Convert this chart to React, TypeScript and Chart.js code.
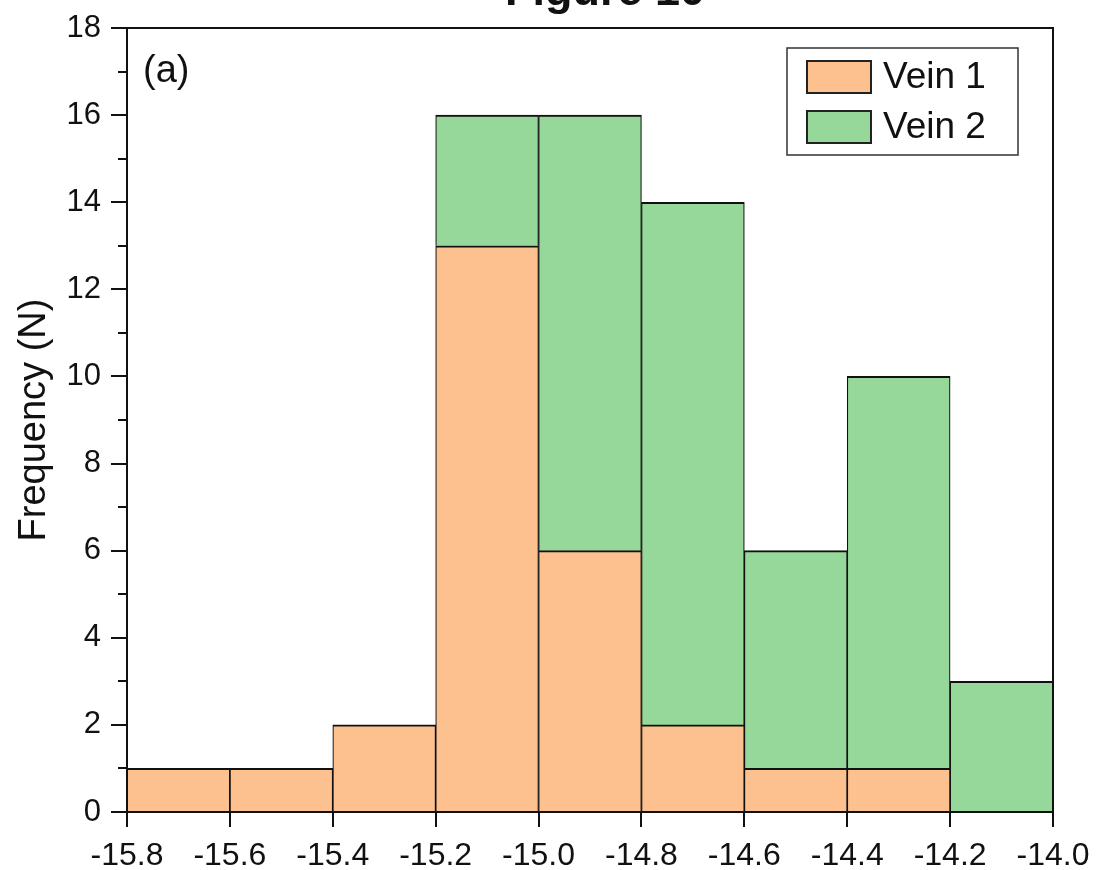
import React, { useEffect, useRef } from "react";
import { Chart, registerables } from "chart.js";

Chart.register(...registerables);

const binCenters = [-15.7, -15.5, -15.3, -15.1, -14.9, -14.7, -14.5, -14.3, -14.1];
const vein1 = [1, 1, 2, 13, 6, 2, 1, 1, 0];
const vein2 = [0, 0, 0, 3, 10, 12, 5, 9, 3];
const xTickValues = [-15.8, -15.6, -15.4, -15.2, -15.0, -14.8, -14.6, -14.4, -14.2, -14.0];
const yMinorTicks = [1, 3, 5, 7, 9, 11, 13, 15, 17];
const seriesNames = ["Vein 1", "Vein 2"];
const seriesColors = ["#FDC18F", "#96D899"];

const FONT = "'Liberation Sans', Arial, Helvetica, sans-serif";

const decorPlugin = {
  id: "decor",
  afterDraw(chart: any) {
    const ctx = chart.ctx;
    const { left, right, top, bottom } = chart.chartArea;
    const ys = chart.scales.y;
    ctx.save();
    // frame
    ctx.strokeStyle = "#111";
    ctx.lineWidth = 2;
    ctx.strokeRect(left, top, right - left, bottom - top);
    // minor y ticks
    ctx.lineWidth = 2;
    yMinorTicks.forEach((v) => {
      const py = Math.round(ys.getPixelForValue(v));
      ctx.beginPath();
      ctx.moveTo(left - 9, py);
      ctx.lineTo(left, py);
      ctx.stroke();
    });
    // title (cut off at top)
    ctx.fillStyle = "#111";
    ctx.font = `bold 45px ${FONT}`;
    ctx.textAlign = "center";
    ctx.textBaseline = "alphabetic";
    ctx.fillText("Figure 10", 605, 5);
    // panel label
    ctx.font = `38px ${FONT}`;
    ctx.textAlign = "left";
    ctx.textBaseline = "middle";
    ctx.fillText("(a)", 143, 72);
    // y axis title
    ctx.save();
    ctx.translate(35, 420);
    ctx.rotate(-Math.PI / 2);
    ctx.font = `38px ${FONT}`;
    ctx.textAlign = "center";
    ctx.textBaseline = "middle";
    ctx.fillText("Frequency (N)", 0, 0);
    ctx.restore();
    // legend
    ctx.fillStyle = "#fff";
    ctx.fillRect(787, 48, 231, 107);
    ctx.strokeStyle = "#333";
    ctx.lineWidth = 1.5;
    ctx.strokeRect(787, 48, 231, 107);
    const rows = [61, 111];
    rows.forEach((ry, i) => {
      ctx.fillStyle = seriesColors[i];
      ctx.fillRect(807, ry, 64, 32);
      ctx.strokeStyle = "#222";
      ctx.lineWidth = 2;
      ctx.strokeRect(807, ry, 64, 32);
      ctx.fillStyle = "#111";
      ctx.font = `37px ${FONT}`;
      ctx.textAlign = "left";
      ctx.textBaseline = "middle";
      ctx.fillText(seriesNames[i], 883, ry + 17);
    });
    ctx.restore();
  },
};

export default function App() {
  const ref = useRef<HTMLCanvasElement | null>(null);
  useEffect(() => {
    if (!ref.current) return;
    const mk = (arr: number[]) =>
      binCenters.map((x, i) => ({ x, y: arr[i] === 0 ? null : arr[i] }));
    const border = { top: 2, left: 1.2, right: 1.2, bottom: 0 } as any;
    const chart = new Chart(ref.current, {
      type: "bar",
      data: {
        datasets: [
          {
            label: seriesNames[0],
            data: mk(vein1) as any,
            backgroundColor: seriesColors[0],
            borderColor: "#111",
            borderWidth: border,
            barPercentage: 1,
            categoryPercentage: 1,
          },
          {
            label: seriesNames[1],
            data: mk(vein2) as any,
            backgroundColor: seriesColors[1],
            borderColor: "#111",
            borderWidth: border,
            barPercentage: 1,
            categoryPercentage: 1,
          },
        ],
      },
      options: {
        animation: false,
        responsive: false,
        maintainAspectRatio: false,
        layout: { padding: { left: 0, top: 28, right: 44, bottom: 0 } },
        plugins: {
          legend: { display: false },
          title: { display: false },
          tooltip: { enabled: false },
        },
        scales: {
          x: {
            type: "linear",
            stacked: true,
            min: -15.8,
            max: -14.0,
            offset: false,
            afterBuildTicks: (scale: any) => {
              scale.ticks = xTickValues.map((v) => ({ value: v }));
            },
            afterFit: (scale: any) => {
              scale.height = 58;
              scale.paddingLeft = 0;
              scale.paddingRight = 0;
            },
            grid: {
              offset: false,
              drawOnChartArea: false,
              drawTicks: true,
              tickLength: 15,
              color: "#111",
              lineWidth: 2,
            },
            border: { display: false },
            ticks: {
              autoSkip: false,
              maxRotation: 0,
              padding: 10,
              color: "#111",
              font: { family: FONT, size: 32 },
              callback: (v: any) => Number(v).toFixed(1),
            },
          },
          y: {
            type: "linear",
            stacked: true,
            min: 0,
            max: 18,
            afterFit: (scale: any) => {
              scale.width = 127;
              scale.paddingTop = 0;
              scale.paddingBottom = 0;
            },
            grid: {
              drawOnChartArea: false,
              drawTicks: true,
              tickLength: 16,
              color: "#111",
              lineWidth: 2,
            },
            border: { display: false },
            ticks: {
              stepSize: 2,
              padding: 10,
              color: "#111",
              font: { family: FONT, size: 31 },
            },
          },
        },
      },
      plugins: [decorPlugin],
    });
    return () => chart.destroy();
  }, []);
  return (
    <div style={{ position: "fixed", left: 0, top: 0, width: 1097, height: 870, background: "#fff" }}>
      <canvas ref={ref} width={1097} height={870} style={{ display: "block", width: 1097, height: 870 }} />
    </div>
  );
}
